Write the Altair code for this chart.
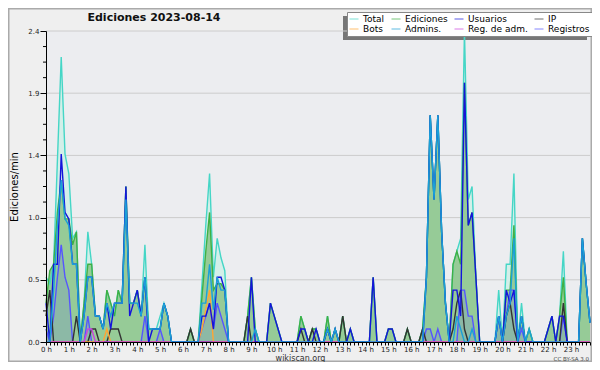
import altair as alt
import pandas as pd

# ---------------- data (10-minute bins, edits per minute) ----------------
series_names = ["Total", "Ediciones", "Usuarios", "IP", "Bots", "Admins.", "Reg. de adm.", "Registros"]
series_colors = ["#45d6c6", "#3fb045", "#1414dc", "#333333", "#ffa533", "#1aa0d8", "#cc44dd", "#5555ff"]

minutes = list(range(0, 1440, 10))

total = [0.5, 0.45, 0.6, 1.4, 2.2, 1.45, 1.3, 0.8, 0.85, 0, 0.3, 0.85,
         0.6, 0.2, 0.2, 0.1, 0.4, 0.3, 0.2, 0.4, 0.3, 1.2, 0.3, 0.3,
         0.4, 0.2, 0.75, 0.1, 0.1, 0.1, 0.2, 0.3, 0.2, 0, 0, 0,
         0, 0, 0.1, 0, 0, 0.45, 0.9, 1.3, 0.5, 0.8, 0.65, 0.55,
         0, 0, 0, 0, 0, 0.2, 0.5, 0.1, 0, 0, 0, 0.3,
         0.2, 0.1, 0, 0, 0, 0, 0, 0.2, 0.1, 0, 0.1, 0.1,
         0, 0, 0.2, 0, 0.1, 0, 0.2, 0, 0.1, 0, 0, 0,
         0, 0, 0.5, 0, 0, 0, 0.1, 0.1, 0, 0, 0, 0.1,
         0, 0, 0, 0.1, 0.5, 1.75, 1.1, 1.75, 0.85, 0.3, 0, 0.6,
         0.7, 0.8, 2.4, 1.1, 1.2, 0.5, 0, 0, 0, 0, 0, 0.4,
         0, 0.6, 0.6, 1.3, 0, 0.3, 0, 0.1, 0, 0, 0, 0,
         0.1, 0.2, 0, 0.2, 0.7, 0, 0, 0, 0, 0.8, 0.45, 0.15]

ediciones = [0.3, 0.55, 0.6, 1.0, 1.25, 0.95, 0.95, 0.75, 0.85, 0, 0.3, 0.6,
             0.6, 0.2, 0.2, 0.1, 0.4, 0.3, 0.2, 0.4, 0.3, 1.2, 0.3, 0.3,
             0.4, 0.2, 0.5, 0.1, 0.1, 0.1, 0.1, 0.3, 0.2, 0, 0, 0,
             0, 0, 0.1, 0, 0, 0.35, 0.7, 1.0, 0.4, 0.45, 0.45, 0.4,
             0, 0, 0, 0, 0, 0.2, 0.5, 0.1, 0, 0, 0, 0.3,
             0.2, 0.1, 0, 0, 0, 0, 0, 0.2, 0.1, 0, 0.1, 0.1,
             0, 0, 0.2, 0, 0.1, 0, 0.2, 0, 0.1, 0, 0, 0,
             0, 0, 0.5, 0, 0, 0, 0.1, 0.1, 0, 0, 0, 0.1,
             0, 0, 0, 0.1, 0.5, 1.75, 1.1, 1.75, 0.85, 0.3, 0, 0.6,
             0.7, 0.6, 2.0, 0.9, 1.0, 0.5, 0, 0, 0, 0, 0, 0.2,
             0, 0.4, 0.4, 0.9, 0, 0.2, 0, 0.1, 0, 0, 0, 0,
             0.1, 0.2, 0, 0.2, 0.5, 0, 0, 0, 0, 0.8, 0.45, 0.15]

usuarios = [0.3, 0, 0.6, 0.6, 1.45, 1.0, 0.95, 0.6, 0.6, 0, 0.2, 0.5,
            0.5, 0.2, 0.2, 0.1, 0.3, 0.1, 0.3, 0.3, 0.3, 1.2, 0.2, 0.3,
            0.4, 0.2, 0.5, 0, 0.1, 0.1, 0.1, 0.3, 0.2, 0, 0, 0,
            0, 0, 0, 0, 0, 0.2, 0.2, 0.3, 0.1, 0.5, 0.5, 0.4,
            0, 0, 0, 0, 0, 0, 0.5, 0, 0, 0, 0, 0.3,
            0.2, 0.1, 0, 0, 0, 0, 0, 0.1, 0.1, 0, 0, 0.1,
            0, 0, 0.1, 0, 0.1, 0, 0, 0, 0.1, 0, 0, 0,
            0, 0, 0.5, 0, 0, 0, 0.1, 0.1, 0, 0, 0, 0,
            0, 0, 0, 0, 0.5, 1.75, 1.1, 1.75, 0.85, 0.3, 0, 0.4,
            0.4, 0.2, 2.0, 0.9, 1.0, 0.5, 0, 0, 0, 0, 0, 0.2,
            0, 0.4, 0.3, 0.4, 0, 0.2, 0, 0, 0, 0, 0, 0,
            0.1, 0.2, 0, 0.2, 0.2, 0, 0, 0, 0, 0.8, 0.45, 0.15]

ip = [0.2, 0.4, 0, 0, 0, 0, 0, 0, 0.2, 0, 0, 0,
      0.1, 0.1, 0, 0, 0, 0.1, 0.1, 0.1, 0, 0, 0, 0,
      0, 0, 0, 0, 0, 0, 0, 0, 0, 0, 0, 0,
      0, 0, 0.1, 0, 0, 0, 0, 0, 0, 0, 0, 0,
      0, 0, 0, 0, 0, 0.2, 0, 0, 0, 0, 0, 0,
      0, 0, 0, 0, 0, 0, 0, 0.1, 0, 0, 0.1, 0,
      0, 0, 0.1, 0, 0, 0, 0.2, 0, 0, 0, 0, 0,
      0, 0, 0, 0, 0, 0, 0, 0, 0, 0, 0, 0.1,
      0, 0, 0, 0.1, 0, 0, 0, 0, 0, 0, 0, 0.1,
      0.3, 0.4, 0.1, 0, 0, 0, 0, 0, 0, 0, 0, 0,
      0, 0.2, 0.3, 0.1, 0, 0, 0, 0, 0, 0, 0, 0,
      0, 0, 0, 0, 0.3, 0, 0, 0, 0, 0, 0, 0]

bots = [0] * 144
bots_values = {16: 0.1, 41: 0.1, 42: 0.25, 43: 0.4}

admins = [0, 0, 0.4, 0.9, 1.25, 0.95, 0.9, 0.6, 0.6, 0, 0.2, 0.5,
          0.5, 0.2, 0.2, 0.1, 0.3, 0.2, 0.3, 0.3, 0.3, 1.1, 0.3, 0.3,
          0.3, 0.2, 0.5, 0.1, 0.1, 0.1, 0.1, 0.3, 0.2, 0, 0, 0,
          0, 0, 0, 0, 0, 0.3, 0.3, 0.6, 0.25, 0.5, 0.4, 0.4,
          0, 0, 0, 0, 0, 0, 0, 0.1, 0, 0, 0, 0,
          0, 0, 0, 0, 0, 0, 0, 0, 0, 0, 0, 0,
          0, 0, 0.1, 0, 0.1, 0, 0, 0, 0, 0, 0, 0,
          0, 0, 0, 0, 0, 0, 0, 0, 0, 0, 0, 0,
          0, 0, 0, 0, 0.5, 1.75, 1.1, 1.75, 0.85, 0.3, 0, 0,
          0.2, 0.1, 0, 0, 0.1, 0, 0, 0, 0, 0, 0, 0.2,
          0, 0.2, 0.3, 0.8, 0, 0.2, 0, 0.1, 0, 0, 0, 0,
          0, 0, 0, 0, 0, 0, 0, 0, 0, 0.8, 0.45, 0.15]

reg_adm = [0] * 144
reg_adm_values = {11: 0.1, 12: 0.1}

registros = [0.1, 0, 0.2, 0.5, 0.75, 0.5, 0.4, 0, 0, 0, 0, 0.2,
             0, 0, 0, 0, 0, 0, 0, 0, 0, 0, 0, 0,
             0, 0, 0.2, 0, 0, 0, 0.1, 0, 0, 0, 0, 0,
             0, 0, 0, 0, 0, 0.1, 0.2, 0.3, 0.1, 0.3, 0.2, 0.1,
             0, 0, 0, 0, 0, 0, 0, 0, 0, 0, 0, 0,
             0, 0, 0, 0, 0, 0, 0, 0, 0, 0, 0, 0,
             0, 0, 0, 0, 0, 0, 0, 0, 0, 0, 0, 0,
             0, 0, 0, 0, 0, 0, 0, 0, 0, 0, 0, 0,
             0, 0, 0, 0, 0.1, 0.1, 0, 0.1, 0, 0, 0, 0,
             0, 0.4, 0.4, 0.2, 0.2, 0, 0, 0, 0, 0, 0, 0.2,
             0, 0.2, 0.4, 0.4, 0, 0.1, 0, 0, 0, 0, 0, 0,
             0, 0, 0, 0, 0.2, 0, 0, 0, 0, 0, 0, 0]

for k, v in bots_values.items():
    bots[k] = v
for k, v in reg_adm_values.items():
    reg_adm[k] = v

x_ticks = list(range(0, 1440, 10))
y_major = [0, 0.48, 0.96, 1.44, 1.92, 2.4]
y_minor = [0.12, 0.24, 0.36, 0.6, 0.72, 0.84, 1.08, 1.2, 1.32, 1.56, 1.68, 1.8, 2.04, 2.16, 2.28]
y_grid = [0.48, 0.96, 1.44, 1.92, 2.4]

title_text = "Ediciones  2023-08-14"
y_title = "Ediciones/min"
footer_site = "wikiscan.org"
footer_license = "CC BY-SA 3.0"

# ---------------- tables ----------------
wide = pd.DataFrame({
    "minute": minutes,
    "Total": total, "Ediciones": ediciones, "Usuarios": usuarios, "IP": ip,
    "Bots": bots, "Admins.": admins, "Reg. de adm.": reg_adm, "Registros": registros,
})
long = wide.melt("minute", var_name="serie", value_name="valor")

FONT = "DejaVu Sans"
W, H = 544, 311
PAD_L, PAD_T = 38, 23
VIEW_W, VIEW_H = 584, 354

xscale = alt.Scale(domain=[0, 1430], nice=False, zero=False)
yscale = alt.Scale(domain=[0, 2.4], nice=False)

xaxis = alt.Axis(values=x_ticks, labelExpr="datum.value % 60 == 0 ? (datum.value / 60) + ' h' : ''",
                 tickSize=3, tickColor="#000000", domainColor="#000000", labelFont=FONT,
                 labelFontSize=7, labelColor="#222222", labelPadding=0, labelOverlap=False,
                 labelFlush=False, grid=False, title=None, zindex=1)
yaxis = alt.Axis(values=y_major, labelExpr="format(datum.value, '.1f')", tickSize=6,
                 tickColor="#000000", domainColor="#000000", labelFont=FONT, labelFontSize=7,
                 labelColor="#222222", labelPadding=1, grid=False, title=y_title,
                 titleFont=FONT, titleFontSize=10, titleFontWeight="normal", titleColor="#000000",
                 titleX=-29, titleY=H / 2, titleAngle=270, titleAlign="center",
                 titleBaseline="alphabetic", zindex=1)

X = alt.X("minute:Q", scale=xscale, axis=xaxis)

color_scale = alt.Scale(domain=series_names, range=series_colors)
legend = alt.Legend(title=None, orient="none", legendX=301, legendY=-19, columns=4,
                    direction="horizontal", symbolType="stroke", symbolSize=81,
                    symbolStrokeWidth=1, symbolOpacity=0.7, labelFont=FONT, labelFontSize=9,
                    labelColor="#000000", labelOffset=4, padding=2, rowPadding=-2,
                    columnPadding=4, fillColor="#ffffff", strokeColor="#888888",
                    labelLimit=300, gridAlign="each")

one = pd.DataFrame({"k": [0]})

shadow = alt.Chart(one).mark_rect(color="#777777").encode(
    x=alt.value(297), x2=alt.value(541), y=alt.value(-15), y2=alt.value(9))

frame = alt.Chart(one).mark_rect(fill="transparent", stroke="#aaaaaa", strokeWidth=1.5).encode(
    x=alt.value(-PAD_L + 0.75), x2=alt.value(VIEW_W - PAD_L - 0.75),
    y=alt.value(-PAD_T + 0.75), y2=alt.value(VIEW_H - PAD_T - 0.75))

grid = alt.Chart(pd.DataFrame({"v": y_grid})).mark_rule(color="#cccccc", strokeWidth=1).encode(
    y=alt.Y("v:Q", scale=yscale, axis=yaxis), x=alt.value(0), x2=alt.value(W))

minor = alt.Chart(pd.DataFrame({"v": y_minor})).mark_rule(color="#000000", strokeWidth=1).encode(
    y=alt.Y("v:Q", scale=yscale, axis=yaxis), x=alt.value(-3), x2=alt.value(0))

area_total = alt.Chart(wide).mark_area(color="#d3efe9", opacity=1).encode(
    x=X, y=alt.Y("Total:Q", scale=yscale, axis=yaxis))
area_edic = alt.Chart(wide).mark_area(color="#92c892", opacity=0.95).encode(
    x=X, y=alt.Y("Ediciones:Q", scale=yscale, axis=yaxis))
area_reg = alt.Chart(wide).mark_area(color="#5555ff", opacity=0.15).encode(
    x=X, y=alt.Y("Registros:Q", scale=yscale, axis=yaxis))

line_order = ["Total", "Ediciones", "Registros", "IP", "Bots", "Reg. de adm.", "Usuarios", "Admins."]
lines = []
for name in line_order:
    lines.append(
        alt.Chart(long).transform_filter(alt.datum.serie == name).mark_line(strokeWidth=1.4).encode(
            x=X, y=alt.Y("valor:Q", scale=yscale, axis=yaxis),
            color=alt.Color("serie:N", scale=color_scale, legend=legend))
    )

title = alt.Chart(pd.DataFrame({"t": [title_text]})).mark_text(
    font=FONT, fontSize=11, fontWeight="bold", color="#111111", align="center", baseline="alphabetic"
).encode(x=alt.value(108), y=alt.value(-10.5), text="t:N")

site = alt.Chart(pd.DataFrame({"t": [footer_site]})).mark_text(
    font=FONT, fontSize=8, color="#333333", align="center", baseline="alphabetic"
).encode(x=alt.value(254.5), y=alt.value(330), text="t:N")

lic = alt.Chart(pd.DataFrame({"t": [footer_license]})).mark_text(
    font=FONT, fontSize=5.5, color="#444444", align="right", baseline="alphabetic"
).encode(x=alt.value(543), y=alt.value(330), text="t:N")

chart = alt.layer(
    frame, shadow, grid, area_total, area_edic, area_reg, *lines, minor, title, site, lic
).properties(
    width=W, height=H,
    autosize=alt.AutoSizeParams(type="none"),
    padding={"left": PAD_L, "top": PAD_T, "right": VIEW_W - PAD_L - W, "bottom": VIEW_H - PAD_T - H},
    background="#efefef",
).configure_view(fill="#ecedf0", stroke="transparent", strokeWidth=0)

chart.save("out.html", embed_options={"renderer": "svg", "actions": False})
